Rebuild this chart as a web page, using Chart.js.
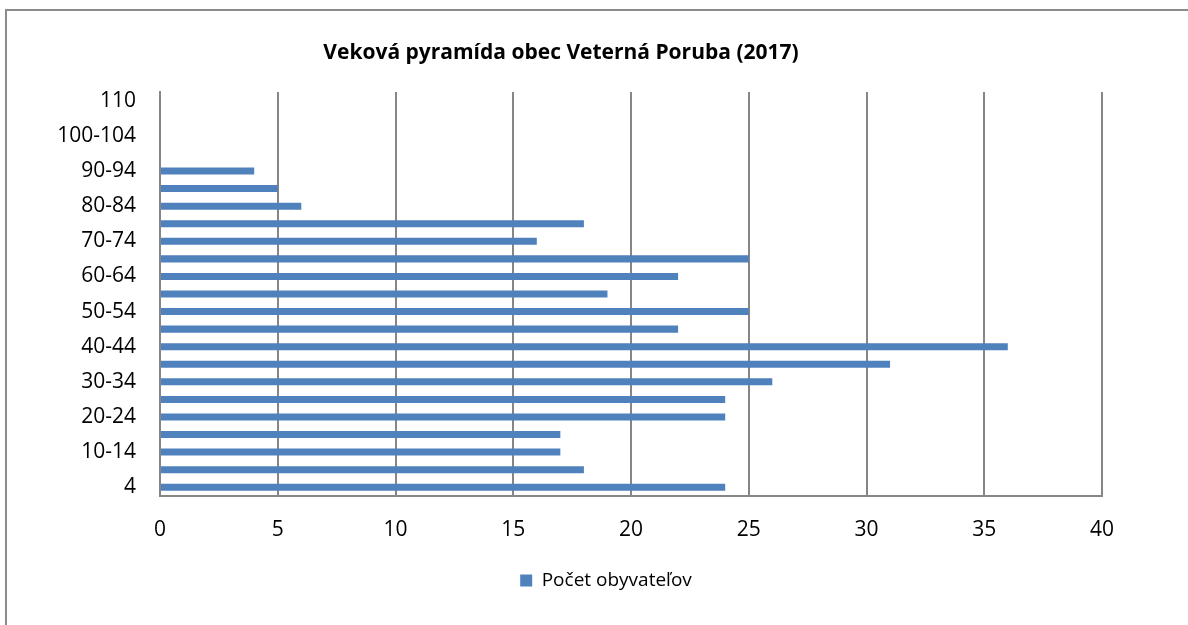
<!DOCTYPE html>
<html>
<head>
<meta charset="utf-8">
<script src="https://cdn.jsdelivr.net/npm/chart.js@4"></script>
<style>
  html, body { margin: 0; padding: 0; background: #fff; }
  #wrap { width: 1188px; height: 625px; position: relative; }
</style>
</head>
<body>
<div id="wrap"><canvas id="chart" width="1188" height="625"></canvas></div>
<script>
// age groups, bottom to top
var ageGroups = ['4', '5-9', '10-14', '15-19', '20-24', '25-29', '30-34', '35-39', '40-44', '45-49',
                 '50-54', '55-59', '60-64', '65-69', '70-74', '75-79', '80-84', '85-89', '90-94',
                 '95-99', '100-104', '105-109', '110'];
var population = [24, 18, 17, 17, 24, 24, 26, 31, 36, 22,
                  25, 19, 22, 25, 16, 18, 6, 5, 4,
                  0, 0, 0, 0];
var seriesName = 'Počet obyvateľov';
var chartTitle = 'Veková pyramída obec Veterná Poruba (2017)';

var fontFamily = '"Open Sans", "Noto Sans", sans-serif';
var gridColor = '#868686';

// outer frame of the chart object
var framePlugin = {
    id: 'frame',
    beforeDraw: function(chart) {
        var ctx = chart.ctx;
        ctx.save();
        ctx.fillStyle = '#fff';
        ctx.fillRect(0, 0, chart.width, chart.height);
        ctx.strokeStyle = '#8c8c8c';
        ctx.lineWidth = 2;
        ctx.strokeRect(6, 10, chart.width + 20, chart.height + 20);
        ctx.restore();
    }
};

// nudge title and legend sideways, like in the Excel original
var nudgePlugin = {
    id: 'nudge',
    beforeDraw: function(chart) {
        if (chart.titleBlock) {
            chart.titleBlock.left += 10;
            chart.titleBlock.right += 10;
        }
        if (chart.legend) {
            chart.legend.left += 55;
            chart.legend.right += 55;
        }
    }
};

new Chart(document.getElementById('chart'), {
    type: 'bar',
    data: {
        labels: ageGroups,
        datasets: [{
            label: seriesName,
            data: population,
            backgroundColor: '#4F81BD',
            borderWidth: 0,
            barPercentage: 0.4,
            categoryPercentage: 1
        }]
    },
    options: {
        indexAxis: 'y',
        responsive: false,
        animation: false,
        layout: {
            padding: { left: 0, right: 86, top: 0, bottom: 25 }
        },
        plugins: {
            title: {
                display: true,
                text: chartTitle,
                color: '#000',
                font: { family: fontFamily, size: 21, weight: 'bold', lineHeight: 1.2 },
                padding: { top: 40, bottom: 26.8 }
            },
            legend: {
                display: true,
                position: 'bottom',
                labels: {
                    color: '#000',
                    font: { family: fontFamily, size: 19 },
                    boxWidth: 12,
                    boxHeight: 12,
                    padding: 10
                }
            },
            tooltip: { enabled: false }
        },
        scales: {
            x: {
                min: 0,
                max: 40,
                ticks: {
                    stepSize: 5,
                    color: '#000',
                    font: { family: fontFamily, size: 21 },
                    padding: 21
                },
                grid: {
                    color: gridColor,
                    lineWidth: 2,
                    drawTicks: false
                },
                border: { color: gridColor, width: 2 },
                afterFit: function(scale) { scale.height = 65; }
            },
            y: {
                reverse: true,
                ticks: {
                    autoSkip: false,
                    color: '#000',
                    font: { family: fontFamily, size: 21 },
                    padding: 24,
                    callback: function(value, index) {
                        return index % 2 === 0 ? this.getLabelForValue(value) : '';
                    }
                },
                grid: { display: false, drawTicks: false },
                border: { color: gridColor, width: 2 },
                afterFit: function(scale) { scale.width = 160; }
            }
        }
    },
    plugins: [framePlugin, nudgePlugin]
});
</script>
</body>
</html>
